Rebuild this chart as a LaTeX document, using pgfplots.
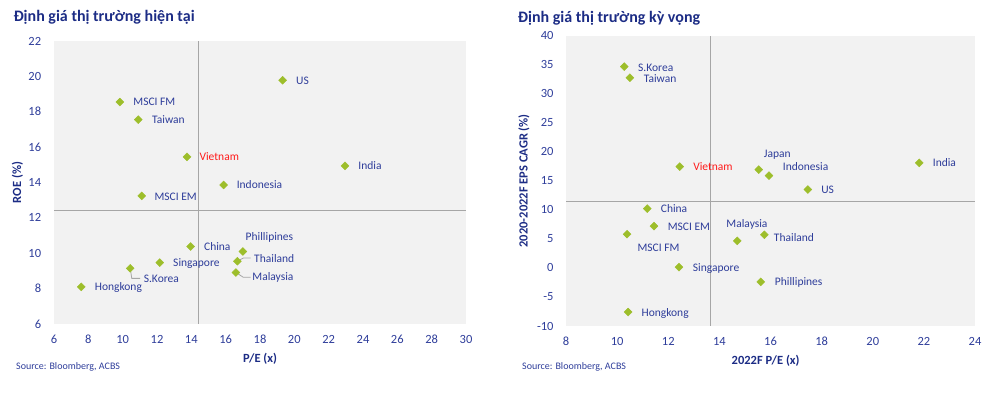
\documentclass[border=0pt]{standalone}
\usepackage{fontspec}
\setmainfont{Carlito}
\usepackage{pgfplots}
\pgfplotsset{compat=1.18}
\definecolor{navy}{HTML}{1C2C85}
\definecolor{lblue}{HTML}{2E3D9A}
\definecolor{mk}{HTML}{9DBE2B}
\definecolor{bg}{HTML}{F2F2F2}
\definecolor{cross}{HTML}{A6A6A6}
\definecolor{vn}{HTML}{FF1A1A}
\pgfplotsset{
  mystyle/.style={
    scale only axis,
    axis line style={draw=none},
    tick style={draw=none},
    axis background/.style={fill=bg},
    /pgf/number format/assume math mode=true,
    tick label style={font=\fontsize{12.5}{14}\selectfont, text=lblue, inner sep=0pt},
    label style={font=\bfseries\fontsize{12.5}{15}\selectfont, text=navy},
    clip=false,
  },
  pts/.style={only marks, mark=square*, mark size=2.8pt, mark options={rotate=45, draw=mk, fill=mk}},
}
\tikzset{
  lab/.style={font=\fontsize{11.5}{13}\selectfont, text=lblue, inner sep=0pt, anchor=base west},
  ttl/.style={font=\bfseries\fontsize{16}{19}\selectfont, text=navy, inner sep=0pt, anchor=base west},
  src/.style={font=\fontsize{10}{12}\selectfont, text=lblue, inner sep=0pt, anchor=base west},
  lead/.style={cross, line width=0.8pt},
}
\begin{document}
\begin{tikzpicture}
\path[use as bounding box] (0pt,0pt) rectangle (994pt,395pt);
\node[ttl] at (13.3pt,373.3pt) {Định giá thị trường hiện tại};
\node[ttl] at (517.7pt,372.7pt) {Định giá thị trường kỳ vọng};
\node[src] at (16pt,25.3pt) {Source: Bloomberg, ACBS};
\node[src] at (522pt,25.3pt) {Source: Bloomberg, ACBS};

% ---------------- left chart ----------------
\begin{axis}[mystyle, at={(54pt,71pt)}, anchor=south west,
  width=412pt, height=283pt,
  xmin=6, xmax=30, ymin=6, ymax=22,
  xtick={6,8,...,30}, ytick={6,8,...,22},
  yticklabel style={anchor=east, xshift=-12.7pt},
  xticklabel style={anchor=center, yshift=-15.3pt},
  xlabel={P/E (x)}, ylabel={ROE (\%)},
  xlabel style={at={(axis description cs:0.5,-0.1247)}, anchor=center},
  ylabel style={at={(axis description cs:-0.0886,0.5)}, anchor=center},
]
\addplot[cross, line width=0.8pt] coordinates {(14.39,6) (14.39,22)};
\addplot[cross, line width=0.8pt] coordinates {(6,12.43) (30,12.43)};
\addplot[lead] coordinates {(16.68,9.55) (17.03,9.73) (17.46,9.73)};
\addplot[lead] coordinates {(16.6,8.91) (17.03,8.64) (17.46,8.64)};
\addplot[lead] coordinates {(10.44,9.15) (10.53,8.58) (11.01,8.58)};
\addplot[pts] table {
x y
19.32 19.78
9.84 18.55
10.91 17.55
13.75 15.45
22.95 14.94
15.88 13.86
11.11 13.24
13.96 10.38
17.0 10.1
16.68 9.55
16.6 8.91
12.16 9.47
10.44 9.15
7.59 8.1
};
\node[lab, xshift=13.3pt, yshift=-3.8pt] at (axis cs:19.32,19.78) {US};
\node[lab, xshift=13.3pt, yshift=-3.8pt] at (axis cs:9.84,18.55) {MSCI FM};
\node[lab, xshift=13.7pt, yshift=-3.8pt] at (axis cs:10.91,17.55) {Taiwan};
\node[lab, xshift=12.3pt, yshift=-3.8pt, text=vn] at (axis cs:13.75,15.45) {Vietnam};
\node[lab, xshift=13.3pt, yshift=-3.8pt] at (axis cs:22.95,14.94) {India};
\node[lab, xshift=13pt, yshift=-3.8pt] at (axis cs:15.88,13.86) {Indonesia};
\node[lab, xshift=12.6pt, yshift=-4.8pt] at (axis cs:11.11,13.24) {MSCI EM};
\node[lab, xshift=13.3pt, yshift=-4.1pt] at (axis cs:13.96,10.38) {China};
\node[lab, xshift=2.7pt, yshift=10.6pt] at (axis cs:17.0,10.1) {Phillipines};
\node[lab, xshift=16.7pt, yshift=-0.8pt] at (axis cs:16.68,9.55) {Thailand};
\node[lab, xshift=16.3pt, yshift=-8.1pt] at (axis cs:16.6,8.91) {Malaysia};
\node[lab, xshift=13.3pt, yshift=-4.1pt] at (axis cs:12.16,9.47) {Singapore};
\node[lab, xshift=13.4pt, yshift=-13.8pt] at (axis cs:10.44,9.15) {S.Korea};
\node[lab, xshift=13.4pt, yshift=-4.1pt] at (axis cs:7.59,8.1) {Hongkong};
\end{axis}

% ---------------- right chart ----------------
\begin{axis}[mystyle, at={(566pt,69pt)}, anchor=south west,
  width=409pt, height=290.3pt,
  xmin=8, xmax=24, ymin=-10, ymax=40,
  xtick={8,10,...,24}, ytick={-10,-5,...,40},
  yticklabel style={anchor=east, xshift=-12.3pt},
  xticklabel style={anchor=center, yshift=-15pt},
  xlabel={2022F P/E (x)}, ylabel={2020-2022F EPS CAGR (\%)},
  xlabel style={at={(axis description cs:0.488,-0.1195)}, anchor=center},
  ylabel style={at={(axis description cs:-0.1027,0.5)}, anchor=center},
]
\addplot[cross, line width=0.8pt] coordinates {(13.65,-10) (13.65,40)};
\addplot[cross, line width=0.8pt] coordinates {(8,11.38) (24,11.38)};
\addplot[pts] table {
x y
10.28 34.67
10.5 32.77
12.45 17.45
15.54 16.94
15.94 15.9
17.46 13.5
21.82 18.1
11.18 10.22
11.44 7.2
10.39 5.82
14.7 4.66
15.76 5.7
12.42 0.14
15.62 -2.4
10.43 -7.6
};
\node[lab, xshift=13.7pt, yshift=-4.4pt] at (axis cs:10.28,34.67) {S.Korea};
\node[lab, xshift=13.7pt, yshift=-4.4pt] at (axis cs:10.5,32.77) {Taiwan};
\node[lab, xshift=13.3pt, yshift=-4.1pt, text=vn] at (axis cs:12.45,17.45) {Vietnam};
\node[lab, xshift=5pt, yshift=12.2pt] at (axis cs:15.54,16.94) {Japan};
\node[lab, xshift=13.7pt, yshift=5.6pt] at (axis cs:15.94,15.9) {Indonesia};
\node[lab, xshift=13.3pt, yshift=-4.4pt] at (axis cs:17.46,13.5) {US};
\node[lab, xshift=13.4pt, yshift=-3.8pt] at (axis cs:21.82,18.1) {India};
\node[lab, xshift=13.4pt, yshift=-4.1pt] at (axis cs:11.18,10.22) {China};
\node[lab, xshift=13.7pt, yshift=-4.8pt] at (axis cs:11.44,7.2) {MSCI EM};
\node[lab, xshift=10.3pt, yshift=-17.5pt] at (axis cs:10.39,5.82) {MSCI FM};
\node[lab, xshift=-11pt, yshift=12.9pt] at (axis cs:14.7,4.66) {Malaysia};
\node[lab, xshift=9.4pt, yshift=-7.1pt] at (axis cs:15.76,5.7) {Thailand};
\node[lab, xshift=13.7pt, yshift=-4.4pt] at (axis cs:12.42,0.14) {Singapore};
\node[lab, xshift=14pt, yshift=-4.1pt] at (axis cs:15.62,-2.4) {Phillipines};
\node[lab, xshift=13.3pt, yshift=-4.5pt] at (axis cs:10.43,-7.6) {Hongkong};
\end{axis}
\end{tikzpicture}
\end{document}
